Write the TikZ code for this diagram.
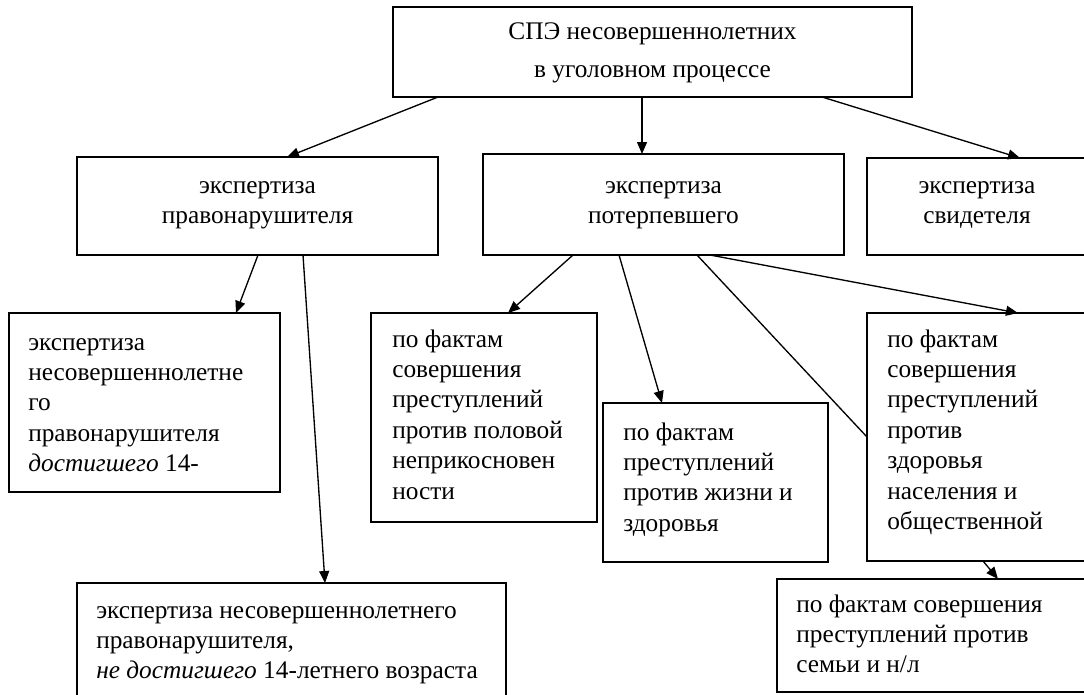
\documentclass[tikz,border=0pt]{standalone}
\usepackage{fontspec}
\setmainfont{Liberation Serif}
\usetikzlibrary{arrows.meta,calc}
\tikzset{
  box/.style={draw, line width=1.3pt, anchor=north west, inner sep=0pt, outer sep=0pt},
  conn/.style={line width=1pt},
  arr/.style={conn, -{Triangle[length=9pt,width=7.5pt]}},
  txtl/.style={anchor=base west, inner sep=0pt, font=\fontsize{19}{22.8}\selectfont},
  txtc/.style={anchor=base, inner sep=0pt, font=\fontsize{19}{22.8}\selectfont},
}
\newcommand{\mybox}[5]{\node[box, minimum width={#4*0.75pt}, minimum height={#5*0.75pt}] (#1) at (#2,#3) {};}
\begin{document}
\begin{tikzpicture}[x=0.75pt, y=-0.75pt]
\useasboundingbox (0,0) rectangle (1084,694);
% boxes
\mybox{top}{393}{7}{519}{90}
\mybox{pr}{77}{157}{361}{98}
\mybox{pt}{483}{154}{361}{101}
\mybox{sv}{867}{158}{230}{97}
\mybox{left}{9}{313}{271}{179}
\mybox{ml}{371}{313}{226}{209}
\mybox{m}{603}{403}{225}{159}
\mybox{r}{867}{313}{230}{248}
\mybox{br}{777}{579}{320}{113}
\mybox{bl}{77}{583}{429}{120}
% texts
\node[txtc, font=\fontsize{19}{28.5}\selectfont] (t-top) at ($(top.north)+(0,32)$)
  {\parbox[t]{400pt}{\centering СПЭ несовершеннолетних\\в уголовном процессе}};
\node[txtc] (t-pr) at ($(pr.north)+(0,36)$)
  {\parbox[t]{260pt}{\centering экспертиза\\правонарушителя}};
\node[txtc] (t-pt) at ($(pt.north)+(0,39)$)
  {\parbox[t]{260pt}{\centering экспертиза\\потерпевшего}};
\node[txtc] (t-sv) at ($(sv.north west)+(110,35)$)
  {\parbox[t]{160pt}{\centering экспертиза\\свидетеля}};
\node[txtl] (t-left) at ($(left.north west)+(19,37)$)
  {\parbox[t]{200pt}{\raggedright экспертиза\\несовершеннолетне\\го\\правонарушителя\\\textit{достигшего} 14-}};
\node[txtl] (t-ml) at ($(ml.north west)+(21,34)$)
  {\parbox[t]{200pt}{\raggedright по фактам\\совершения\\преступлений\\против половой\\неприкосновен\\ности}};
\node[txtl] (t-m) at ($(m.north west)+(20,37)$)
  {\parbox[t]{200pt}{\raggedright по фактам\\преступлений\\против жизни и\\здоровья}};
\node[txtl] (t-r) at ($(r.north west)+(20,34)$)
  {\parbox[t]{200pt}{\raggedright по фактам\\совершения\\преступлений\\против\\здоровья\\населения и\\общественной}};
\node[txtl] (t-br) at ($(br.north west)+(19,33)$)
  {\parbox[t]{250pt}{\raggedright по фактам совершения\\преступлений против\\семьи и н/л}};
\node[txtl] (t-bl) at ($(bl.north west)+(19,35)$)
  {\parbox[t]{320pt}{\raggedright экспертиза несовершеннолетнего\\правонарушителя,\\\textit{не достигшего} 14-летнего возраста}};
% connectors
\draw[arr] ($(top.south west)+(45,0)$) -- ($(pr.north west)+(210,0)$);
\draw[arr] ($(top.south west)+(249,0)$) -- ($(pt.north west)+(159,0)$);
\draw[arr] ($(top.south west)+(429,0)$) -- ($(sv.north west)+(153,0)$);
\draw[arr] ($(pr.south west)+(181,0)$) -- ($(left.north west)+(227,0)$);
\draw[arr] ($(pr.south west)+(226,0)$) -- ($(bl.north west)+(248,0)$);
\draw[arr] ($(pt.south west)+(90,0)$) -- ($(ml.north west)+(137,0)$);
\draw[arr] ($(pt.south west)+(136,0)$) -- ($(m.north west)+(59,0)$);
\draw[conn] ($(pt.south west)+(214,0)$) -- ($(r.north west)+(0,124)$);
\draw[arr] ($(pt.south west)+(227,0)$) -- ($(r.north west)+(151,0)$);
\draw[arr] ($(r.south west)+(116,0)$) -- ($(br.north west)+(221,0)$);
\end{tikzpicture}
\end{document}
